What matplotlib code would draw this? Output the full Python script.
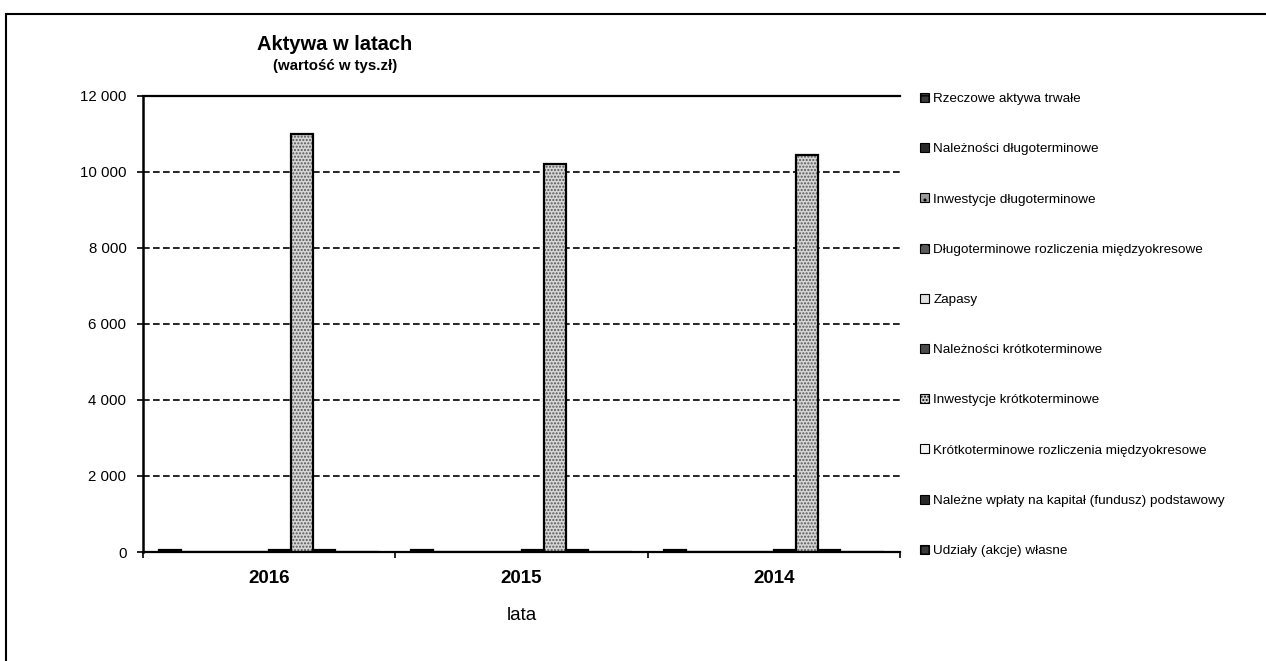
import numpy as np
import matplotlib
matplotlib.use('Agg')
import matplotlib.pyplot as plt
from matplotlib.patches import Rectangle

# Data
years = ['2016', '2015', '2014']
series = ['Rzeczowe aktywa trwałe',
          'Należności długoterminowe',
          'Inwestycje długoterminowe',
          'Długoterminowe rozliczenia międzyokresowe',
          'Zapasy',
          'Należności krótkoterminowe',
          'Inwestycje krótkoterminowe',
          'Krótkoterminowe rozliczenia międzyokresowe',
          'Należne wpłaty na kapitał (fundusz) podstawowy',
          'Udziały (akcje) własne']
values = [
    [60, 60, 60],
    [0, 0, 0],
    [0, 0, 0],
    [0, 0, 0],
    [0, 0, 0],
    [50, 50, 50],
    [11000, 10200, 10450],
    [40, 40, 40],
    [0, 0, 0],
    [0, 0, 0],
]

faces = ['#3a3a3a', '#2a2a2a', '#9a9a9a', '#5a5a5a', '#e0e0e0',
         '#4a4a4a', '#d6d6d6', '#f4f4f4', '#2a2a2a', '#3a3a3a']
hatches = ['++', '', '..', 'xx', '', '', '.....', '', '', '++']

plt.rcParams['font.family'] = ['Liberation Sans', 'DejaVu Sans']

fig = plt.figure(figsize=(12.66, 6.61), dpi=100)
ax = fig.add_axes([0.1130, 0.1649, 0.5979, 0.6899])

x = np.arange(len(years))
bw = 22 / 252
gap = 16 / 252
for i, name in enumerate(series):
    pos = x - 0.5 + gap + bw * i + bw / 2
    ax.bar(pos, values[i], width=bw, color=faces[i], hatch=hatches[i],
           edgecolor='#555555', linewidth=0.0, label=name)
    ax.bar(pos, values[i], width=bw, facecolor='none',
           edgecolor='black', linewidth=1.6)

ax.set_xlim(-0.5, 2.5)
ax.set_ylim(0, 12000)
ax.set_yticks(np.arange(0, 12001, 2000))
ax.set_yticklabels(['0', '2 000', '4 000', '6 000', '8 000', '10 000', '12 000'],
                   fontsize=10.8)
ax.set_xticks(x)
ax.set_xticklabels(years, fontsize=13.5, fontweight='bold')
ax.set_xticks([-0.5, 0.5, 1.5, 2.5], minor=True)
ax.tick_params(axis='x', which='major', length=0, pad=13)
ax.tick_params(axis='x', which='minor', length=4, width=1.2, direction='out')
ax.tick_params(axis='y', length=4, width=1.2, direction='out', pad=8)

for yv in range(2000, 12000, 2000):
    ax.axhline(yv, color='black', linestyle=(0, (4, 2)), linewidth=1.2, zorder=0)

ax.spines['right'].set_visible(False)
ax.spines['left'].set_linewidth(1.8)
ax.spines['bottom'].set_linewidth(1.6)
ax.spines['top'].set_linewidth(1.6)

ax.set_xlabel('lata', fontsize=13.5, labelpad=14)

fig.text(0.2646, 0.933, 'Aktywa w latach', fontsize=14.5, fontweight='bold',
         ha='center', va='center')
fig.text(0.2646, 0.900, '(wartość w tys.zł)', fontsize=10.8, fontweight='bold',
         ha='center', va='center')

handles, labels = ax.get_legend_handles_labels()
leg = fig.legend(handles, labels, loc='upper left',
                 bbox_to_anchor=(0.7270, 0.8595), frameon=False,
                 fontsize=9.7, handlelength=0.65, handleheight=0.65,
                 handletextpad=0.3, labelspacing=2.82, borderaxespad=0,
                 borderpad=0)
for h in leg.legend_handles:
    h.set_edgecolor('black')
    h.set_linewidth(0.8)

# outer chart frame
fig.patches.append(Rectangle((6 / 1266, -0.05), 1.1, 1 - 14 / 661 + 0.05,
                             transform=fig.transFigure, fill=False,
                             edgecolor='black', linewidth=1.5))

fig.savefig('out.png', dpi=100)
